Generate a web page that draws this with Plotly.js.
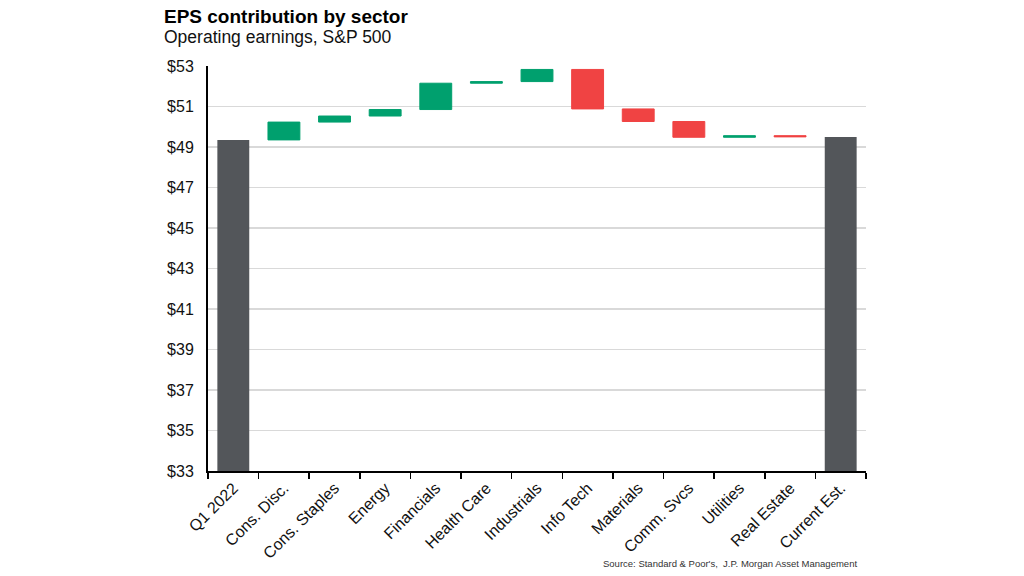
<!DOCTYPE html>
<html>
<head>
<meta charset="utf-8">
<script src="https://cdn.plot.ly/plotly-3.0.1.min.js"></script>
<style>html,body{margin:0;padding:0;background:#fff;}#chart{width:1024px;height:576px;}</style>
</head>
<body>
<div id="chart"></div>
<script>
const categories = ["Q1 2022","Cons. Disc.","Cons. Staples","Energy","Financials","Health Care","Industrials","Info Tech","Materials","Comm. Svcs","Utilities","Real Estate","Current Est."];
const values = [49.35, 0.88, 0.30, 0.32, 1.30, 0.08, 0.60, -1.95, -0.62, -0.78, 0.08, -0.06, 0];
const measures = ["absolute","relative","relative","relative","relative","relative","relative","relative","relative","relative","relative","relative","total"];
const yTickVals = [33,35,37,39,41,43,45,47,49,51,53];

const trace = {
  type: "waterfall",
  x: categories,
  y: values,
  measure: measures,
  base: 0,
  connector: {visible: false},
  increasing: {marker: {color: "#00A06E", line: {color: "#00A06E", width: 1}}},
  decreasing: {marker: {color: "#F04343", line: {color: "#F04343", width: 1}}},
  totals: {marker: {color: "#53565A", line: {color: "#53565A", width: 0}}},
  textinfo: "none",
  hoverinfo: "x+y"
};

const layout = {
  width: 1024, height: 576,
  margin: {l: 208, r: 158, t: 66, b: 105},
  paper_bgcolor: "#fff", plot_bgcolor: "#fff",
  font: {family: "Liberation Sans, Arial, sans-serif", color: "#000", size: 16},
  showlegend: false,
  waterfallgap: 0.37,
  xaxis: {
    type: "category",
    tickangle: -45,
    showline: true, linecolor: "#000", linewidth: 1.5,
    ticks: "outside", tickson: "boundaries", ticklen: 6, tickcolor: "#000", tickwidth: 1.5,
    showgrid: false,
    tickfont: {size: 16, family: "Liberation Sans, Arial, sans-serif", color: "#111"}
  },
  yaxis: {
    range: [33, 53],
    tickvals: yTickVals,
    ticktext: yTickVals.map(v => "$" + v),
    showline: true, linecolor: "#000", linewidth: 2,
    ticks: "", showgrid: true, gridcolor: "#d9d9d9", gridwidth: 1.2,
    zeroline: false,
    tickfont: {size: 16, family: "Liberation Sans, Arial, sans-serif", color: "#111"},
    ticklabelstandoff: 9
  },
  annotations: [
    {text: "<b>EPS contribution by sector</b>", xref: "paper", yref: "paper", x: -0.07, y: 1.0, xanchor: "left", yanchor: "middle", yshift: 50, showarrow: false, font: {size: 19, color: "#000"}},
    {text: "Operating earnings, S&P 500", xref: "paper", yref: "paper", x: -0.07, y: 1.0, xanchor: "left", yanchor: "middle", yshift: 29, showarrow: false, font: {size: 17.5, color: "#111"}},
    {text: "Source: Standard & Poor's,  J.P. Morgan Asset Management", xref: "paper", yref: "paper", x: 0.99, y: 0, xanchor: "right", yanchor: "middle", yshift: -92, showarrow: false, font: {size: 9.5, color: "#333"}}
  ]
};

Plotly.newPlot("chart", [trace], layout, {displayModeBar: false, staticPlot: true});
</script>
</body>
</html>
